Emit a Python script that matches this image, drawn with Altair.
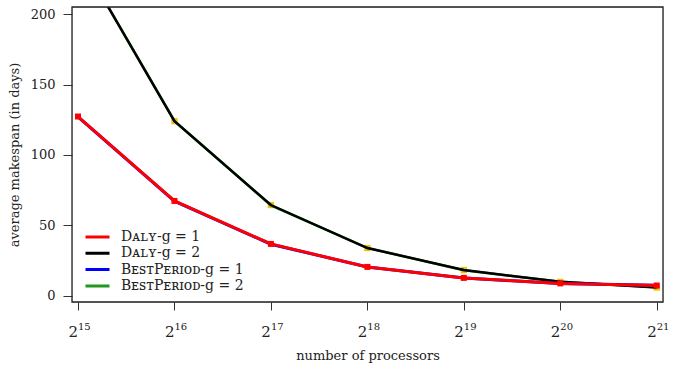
import altair as alt
import pandas as pd

# exponents of 2 (number of processors = 2**exp)
exps = [15, 16, 17, 18, 19, 20, 21]
exp_labels = ["15", "16", "17", "18", "19", "20", "21"]
daly1 = [127.3, 67.4, 36.9, 20.6, 12.8, 8.9, 7.4]
daly2 = [242.0, 124.0, 64.5, 34.0, 18.4, 10.0, 6.0]
best1 = [127.0, 67.2, 36.7, 20.5, 12.7, 8.8, 7.5]
best2 = [242.0, 124.2, 64.3, 34.1, 18.2, 10.1, 6.1]

names = ["Dᴀʟʏ-g = 1", "Dᴀʟʏ-g = 2", "BᴇꜱᴛPᴇʀɪᴏᴅ-g = 1", "BᴇꜱᴛPᴇʀɪᴏᴅ-g = 2"]
colors = ["#ff0000", "#000000", "#0000ff", "#1f9a1f"]

FONT = "DejaVu Serif"

def frame(vals, name=""):
    return pd.DataFrame({"exp": exps, "v": vals, "s": [name] * len(exps)})

xs = alt.Scale(domain=[14.938, 21.065], nice=False, zero=False)
ys = alt.Scale(domain=[-4.3, 205.0], nice=False, zero=False)
cs = alt.Scale(domain=names, range=colors)

xax = alt.Axis(values=exps, labels=False, grid=False, domain=False, tickSize=8,
               tickColor="#333", tickWidth=1, title="number of processors",
               titleFont=FONT, titleFontSize=13, titleFontWeight="normal",
               titleColor="#222", titleY=57, titleBaseline="alphabetic")
yax = alt.Axis(values=[0, 50, 100, 150, 200], grid=False, domain=False, tickSize=9,
               tickColor="#333", tickWidth=1, labelFont=FONT, labelFontSize=13,
               labelColor="#222", labelPadding=8, title="average makespan (in days)",
               titleFont=FONT, titleFontSize=13, titleFontWeight="normal",
               titleColor="#222", titlePadding=9)

legend = alt.Legend(orient="none", legendX=12, legendY=222, title=None,
                    symbolType="stroke", symbolSize=576, symbolStrokeWidth=3,
                    labelFont=FONT, labelFontSize=14, labelColor="#222",
                    labelOffset=10, rowPadding=0.3, clipHeight=16, padding=0)

X = alt.X("exp:Q", scale=xs, axis=xax)
Y = alt.Y("v:Q", scale=ys, axis=yax)
C = alt.Color("s:N", scale=cs, legend=legend)

def line(vals, name, width):
    return alt.Chart(frame(vals, name)).mark_line(strokeWidth=width, clip=True).encode(
        x=X, y=Y, color=C)

gold_pts = alt.Chart(frame(daly2)).mark_square(size=40, color="#f2c200", opacity=1, clip=True).encode(
    x=X, y=Y)
red_pts = alt.Chart(frame(daly1)).mark_square(size=36, color="#ff0000", opacity=1, clip=True).encode(
    x=X, y=Y)

lab_df = pd.DataFrame({"exp": exps, "e": exp_labels})
base_lab = alt.Chart(lab_df).mark_text(text="2", font=FONT, fontSize=15, align="right",
                                       baseline="alphabetic", color="#222").encode(
    x=X, y=alt.value(330))
exp_lab = alt.Chart(lab_df).mark_text(font=FONT, fontSize=10, align="left",
                                      baseline="alphabetic", color="#222").encode(
    x=X, y=alt.value(323), text="e:N")

box = alt.Chart(pd.DataFrame({"a": [0]})).mark_rect(
    filled=False, stroke="#222222", strokeWidth=1.3, fillOpacity=0).encode(
    x=alt.value(0), x2=alt.value(591), y=alt.value(0), y2=alt.value(295))

chart = alt.layer(
    gold_pts,
    line(best2, names[3], 2.5),
    line(daly2, names[1], 2.5),
    line(best1, names[2], 3),
    line(daly1, names[0], 3),
    red_pts,
    base_lab,
    exp_lab,
    box,
).properties(
    width=591, height=295,
    autosize=alt.AutoSizeParams(type="none"),
    padding={"left": 72, "top": 7, "right": 18, "bottom": 69},
).configure_view(stroke="#222222", strokeWidth=1.5).configure(background="white")

chart.save("out.html", embed_options={"renderer": "svg", "actions": False})
